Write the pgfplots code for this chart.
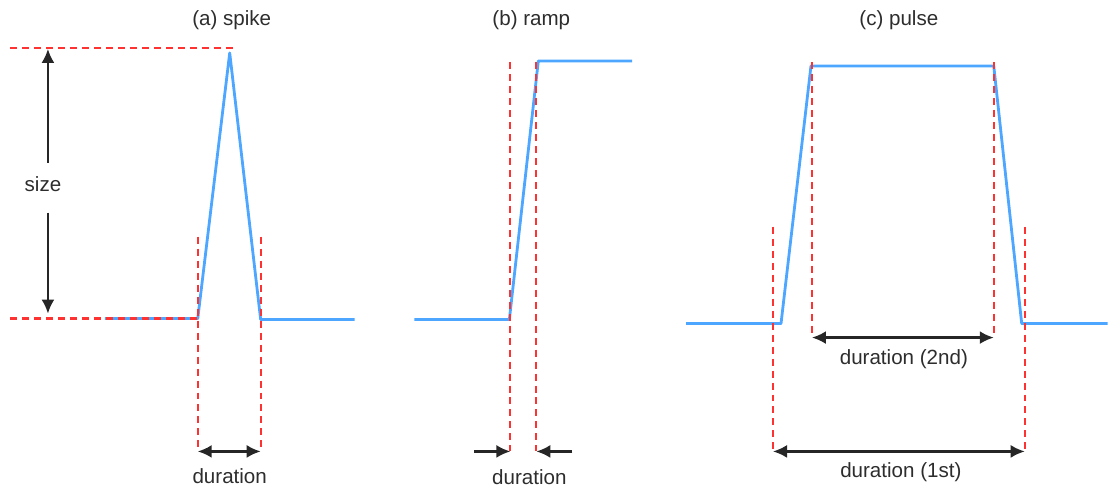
\documentclass[border=0pt]{standalone}
\usepackage{pgfplots}
\pgfplotsset{compat=1.18}
\usepackage{fontspec}
\setmainfont{Liberation Sans}
\usetikzlibrary{arrows.meta}
\definecolor{sig}{RGB}{77,166,255}
\definecolor{guide}{RGB}{255,50,50}
\definecolor{lbl}{RGB}{45,45,45}
\tikzset{
  signal/.style={sig, line width=1.4bp, line join=round},
  guideline/.style={guide, line width=1.1bp, dash pattern=on 3.5bp off 2.5bp},
  dim/.style={black!85, line width=1.1bp, >={Latex[length=7bp,width=6.5bp]}},
  lab/.style={font=\fontsize{10.3bp}{12bp}\selectfont, text=lbl},
}
\begin{document}
\begin{tikzpicture}
\begin{axis}[
  scale only axis, width=554.5bp, height=244bp,
  xmin=0, xmax=1109, ymin=0, ymax=488, y dir=reverse,
  hide axis, clip=false,
]
% bounding frame of the figure
\path (axis cs:0,0) rectangle (axis cs:1109,488);

% ---- (a) spike ----
\addplot[signal] coordinates {(105,319) (198,319) (230,53) (261,320) (355,320)};
\addplot[guideline] coordinates {(10,48) (237,48)};
\addplot[guideline] coordinates {(10,319) (197,319)};
\addplot[guideline] coordinates {(198,237) (198,450)};
\addplot[guideline] coordinates {(261,237) (261,450)};
\addplot[dim,->] coordinates {(48,163) (48,49)};
\addplot[dim,->] coordinates {(48,213) (48,314)};
\addplot[dim,<->] coordinates {(198,452) (261,452)};
\node[lab] at (axis cs:232,20) {(a) spike};
\node[lab] at (axis cs:43,184) {size};
\node[lab] at (axis cs:230,477) {duration};

% ---- (b) ramp ----
\addplot[signal] coordinates {(415,320) (510,320) (539,61) (633,61)};
\addplot[guideline] coordinates {(511,62) (511,452)};
\addplot[guideline] coordinates {(537,62) (537,452)};
\addplot[dim,->] coordinates {(475,452) (511,452)};
\addplot[dim,->] coordinates {(573,452) (537,452)};
\node[lab] at (axis cs:532,20) {(b) ramp};
\node[lab] at (axis cs:530,478) {duration};

% ---- (c) pulse ----
\addplot[signal] coordinates {(687,324) (782,324) (812,66) (995,66) (1023,324) (1109,324)};
\addplot[guideline] coordinates {(813,62) (813,335)};
\addplot[guideline] coordinates {(995,62) (995,335)};
\addplot[guideline] coordinates {(774,227) (774,452)};
\addplot[guideline] coordinates {(1026,227) (1026,452)};
\addplot[dim,<->] coordinates {(813,338) (995,338)};
\addplot[dim,<->] coordinates {(774,452) (1026,452)};
\node[lab] at (axis cs:900,20) {(c) pulse};
\node[lab] at (axis cs:905,360) {duration (2nd)};
\node[lab] at (axis cs:902,473) {duration (1st)};
\end{axis}
\end{tikzpicture}
\end{document}
